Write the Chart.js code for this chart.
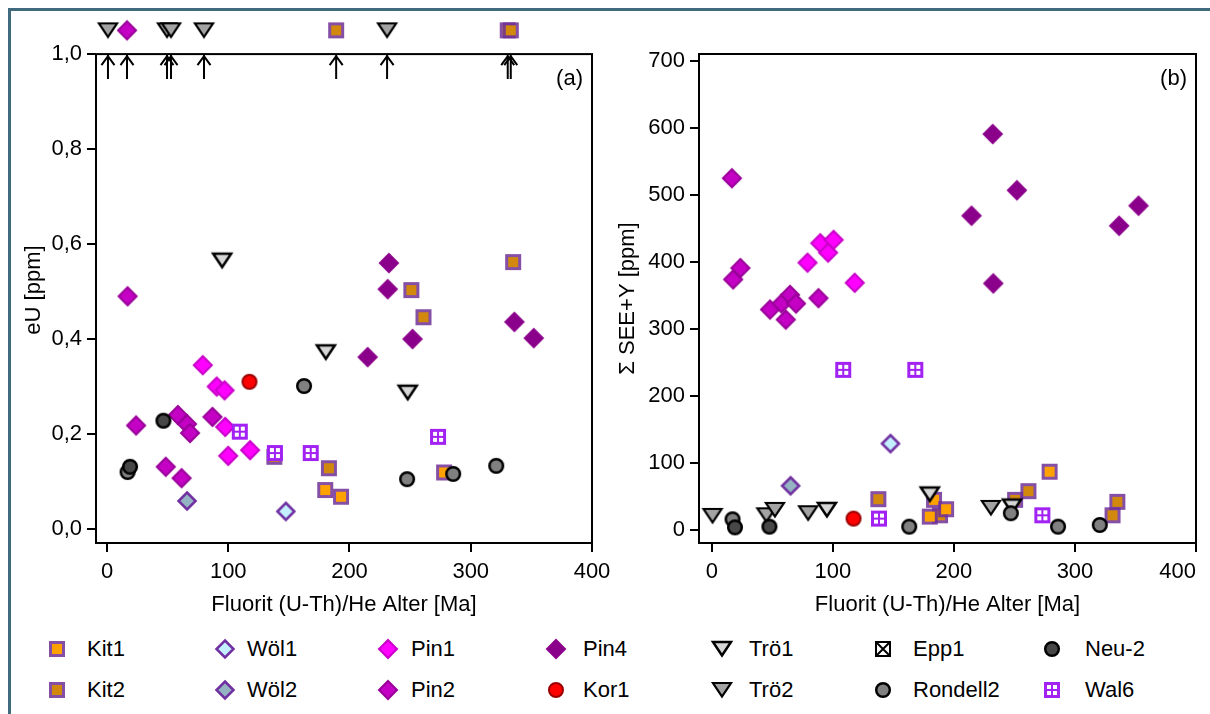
<!DOCTYPE html>
<html lang="de">
<head>
<meta charset="utf-8">
<title>Fluorit (U-Th)/He Alter</title>
<script src="https://cdn.jsdelivr.net/npm/chart.js@4.4.0/dist/chart.umd.min.js"></script>
<style>
    html, body { margin: 0; padding: 0; background: #fff; }
    body { width: 1210px; height: 714px; overflow: hidden; position: relative; font-family: 'Liberation Sans', Arial, sans-serif; }
    #frame { position: absolute; left: 8px; top: 8px; width: 1300px; height: 800px; border: 3px solid #416a7f; }
    canvas { position: absolute; top: 0; }
    #chartA { left: 0; }
    #chartB { left: 580px; }
    .lg-mark { position: absolute; width: 28px; height: 28px; }
    .lg-text { position: absolute; font-size: 22px; line-height: 24px; color: #000; white-space: nowrap; }
</style>
</head>
<body>
<div id="frame"></div>
<canvas id="chartA" width="630" height="630"></canvas>
<canvas id="chartB" width="640" height="630"></canvas>
<div id="legend"></div>

<script>
(function () {
    'use strict';

    /* =====================================================
       DATA  (ages in Ma)
       ===================================================== */
    var X_TICKS = [0, 100, 200, 300, 400];
    var Y_TICKS_A = [0, 0.2, 0.4, 0.6, 0.8, 1.0];
    var Y_TICKS_B = [0, 100, 200, 300, 400, 500, 600, 700];

    // panel (a): eU [ppm]
    var kit1AgeA = [180, 193, 278];
    var kit1EU   = [0.082, 0.068, 0.119];
    var kit2AgeA = [138, 183, 251, 261, 335];
    var kit2EU   = [0.152, 0.128, 0.503, 0.446, 0.562];
    var wol1AgeA = [147.5];
    var wol1EU   = [0.037];
    var wol2AgeA = [66];
    var wol2EU   = [0.059];
    var pin1AgeA = [79, 90.5, 97, 97.5, 100, 118];
    var pin1EU   = [0.345, 0.300, 0.292, 0.215, 0.154, 0.166];
    var pin2AgeA = [17, 24, 48.5, 58.5, 61.5, 66, 68.5, 87];
    var pin2EU   = [0.490, 0.218, 0.131, 0.240, 0.107, 0.221, 0.202, 0.236];
    var pin4AgeA = [215, 231.5, 232.5, 252, 336, 352];
    var pin4EU   = [0.362, 0.505, 0.560, 0.400, 0.436, 0.402];
    var kor1AgeA = [117.5];
    var kor1EU   = [0.310];
    var tro1AgeA = [95, 180.5, 248];
    var tro1EU   = [0.565, 0.372, 0.287];
    var neu2AgeA = [19, 46.5];
    var neu2EU   = [0.131, 0.228];
    var ronAgeA  = [17, 162.5, 247.5, 285.5, 321];
    var ronEU    = [0.120, 0.301, 0.105, 0.116, 0.133];
    var wal6AgeA = [109.5, 138.5, 168, 273];
    var wal6EU   = [0.205, 0.160, 0.160, 0.194];

    // off-scale eU (> 1,0): plotted above the frame with an arrow
    var EU_LIMIT = 1.0;
    var EU_OFFSCALE = 1.05;
    var kit2AgeTop = [189, 330.5, 333];
    var pin2AgeTop = [16.5];
    var tro2AgeTop = [0.8, 49.5, 52.8, 80, 231];

    // panel (b): Σ SEE+Y [ppm]
    var kit1AgeB = [180, 183.5, 193.5, 279];
    var kit1REE  = [20, 45, 31, 87];
    var kit2AgeB = [137.5, 188.5, 250.5, 261.5, 331, 335];
    var kit2REE  = [46, 22, 45, 58, 22, 42];
    var wol1AgeB = [147.5];
    var wol1REE  = [129];
    var wol2AgeB = [65];
    var wol2REE  = [66];
    var pin1AgeB = [79, 89.5, 96, 100.5, 118];
    var pin1REE  = [399, 428, 414, 433, 369];
    var pin2AgeB = [16.5, 17.5, 23.5, 48, 57.5, 61, 64.5, 69.5, 88];
    var pin2REE  = [525, 374, 391, 329, 338, 314, 351, 338, 346];
    var pin4AgeB = [214.5, 232, 232.5, 252, 336.5, 352.5];
    var pin4REE  = [469, 591, 368, 507, 454, 484];
    var kor1AgeB = [117];
    var kor1REE  = [17];
    var tro1AgeB = [95, 180, 248];
    var tro1REE  = [30, 53, 35];
    var tro2AgeB = [0.5, 45, 52, 79.5, 230.5];
    var tro2REE  = [21, 22, 30, 25, 33];
    var neu2AgeB = [19, 47.5];
    var neu2REE  = [4, 5];
    var ronAgeB  = [17, 163, 247, 286, 320.5];
    var ronREE   = [16, 5, 25, 5, 7.5];
    var wal6AgeB = [108.5, 138, 168, 273];
    var wal6REE  = [239, 17, 239, 22];

    var X_TITLE = 'Fluorit (U-Th)/He Alter [Ma]';
    var FONT = "'Liberation Sans', Arial, Helvetica, sans-serif";
    var FONT_SIZE = 22;

    /* =====================================================
       MARKERS (offscreen canvases used as pointStyle)
       ===================================================== */
    function makeMarker(shape, fill, stroke, lw, r) {
        var c = document.createElement('canvas');
        c.width = 28; c.height = 28;
        var g = c.getContext('2d');
        var m = 14;
        g.fillStyle = fill; g.strokeStyle = stroke; g.lineWidth = lw;
        if (shape === 'square') {
            g.fillStyle = stroke; g.fillRect(m - 8, m - 8, 16, 16);
            g.fillStyle = fill; g.fillRect(m - 5, m - 5, 10, 10);
            return c;
        }
        if (shape === 'grid') {
            g.fillRect(m - 8, m - 8, 16, 16);
            g.fillStyle = '#fff';
            [[-5, -5], [1, -5], [-5, 1], [1, 1]].forEach(function (o) {
                g.fillRect(m + o[0], m + o[1], 4, 4);
            });
            return c;
        }
        g.beginPath();
        if (shape === 'diamond') {
            g.moveTo(m, m - r); g.lineTo(m + r, m); g.lineTo(m, m + r); g.lineTo(m - r, m); g.closePath();
        } else if (shape === 'circle') {
            g.arc(m, m, r, 0, Math.PI * 2);
        } else if (shape === 'triangle') {
            g.moveTo(m - 9, m - 7); g.lineTo(m + 9, m - 7); g.lineTo(m, m + 6.5); g.closePath();
        } else if (shape === 'xbox') {
            g.rect(m - 7, m - 7, 14, 14);
        }
        g.fill(); g.stroke();
        if (shape === 'xbox') {
            g.beginPath();
            g.moveTo(m - 7, m - 7); g.lineTo(m + 7, m + 7);
            g.moveTo(m + 7, m - 7); g.lineTo(m - 7, m + 7);
            g.stroke();
        }
        return c;
    }

    var purpleEdge = 'rgba(112,48,150,0.85)';
    var markers = {
        'Kit1': makeMarker('square', '#ffa200', purpleEdge, 0),
        'Kit2': makeMarker('square', '#d1880c', purpleEdge, 0),
        'Wöl1': makeMarker('diamond', '#c4efff', '#7030a0', 2.5, 8.5),
        'Wöl2': makeMarker('diamond', '#94b4c4', '#7030a0', 2.5, 8.5),
        'Pin1': makeMarker('diamond', '#ff00ff', '#c800c8', 2, 9),
        'Pin2': makeMarker('diamond', '#c400c4', '#990099', 2, 9),
        'Pin4': makeMarker('diamond', '#8b008b', '#8b008b', 2, 9),
        'Kor1': makeMarker('circle', '#ff0000', '#9b0000', 2, 7),
        'Trö1': makeMarker('triangle', '#d6d6d6', '#000', 2.5),
        'Trö2': makeMarker('triangle', '#a3a3a3', '#000', 2.2),
        'Epp1': makeMarker('xbox', '#fff', '#000', 2),
        'Neu-2': makeMarker('circle', '#474747', '#000', 2.5, 6.8),
        'Rondell2': makeMarker('circle', '#808080', '#000', 2.5, 6.8),
        'Wal6': makeMarker('grid', '#a122f2', '#a122f2', 0)
    };

    function pts(xs, ys) {
        return xs.map(function (x, i) { return { x: x, y: ys[i] }; });
    }
    function constPts(xs, y) {
        return xs.map(function (x) { return { x: x, y: y }; });
    }
    function ds(label, data) {
        return { label: label, data: data, pointStyle: markers[label], clip: false };
    }

    /* =====================================================
       PLUGINS
       ===================================================== */
    var framePlugin = {
        id: 'frame',
        beforeDatasetsDraw: function (chart, args, opts) {
            var a = chart.chartArea, ctx = chart.ctx;
            var top = chart.scales.y.getPixelForValue(opts.topValue);
            ctx.save();
            ctx.strokeStyle = '#000';
            ctx.lineWidth = 2;
            ctx.strokeRect(a.left, top, a.right - a.left, a.bottom - top);
            ctx.fillStyle = '#000';
            ctx.font = FONT_SIZE + 'px ' + FONT;
            ctx.textAlign = 'right';
            ctx.textBaseline = 'top';
            ctx.fillText(opts.tag, a.right - 9, top + 14);
            ctx.restore();
        }
    };

    var arrowPlugin = {
        id: 'offscale',
        afterDatasetsDraw: function (chart, args, opts) {
            var xs = chart.scales.x, ys = chart.scales.y, ctx = chart.ctx;
            var y0 = ys.getPixelForValue(opts.limit);
            ctx.save();
            ctx.strokeStyle = '#000';
            ctx.lineWidth = 2;
            chart.data.datasets.forEach(function (d) {
                d.data.forEach(function (p) {
                    if (p.y <= opts.limit) return;
                    var x = xs.getPixelForValue(p.x);
                    ctx.beginPath();
                    ctx.moveTo(x, y0 + 1);
                    ctx.lineTo(x, y0 + 25);
                    ctx.moveTo(x - 6.5, y0 + 11);
                    ctx.lineTo(x, y0 + 2);
                    ctx.lineTo(x + 6.5, y0 + 11);
                    ctx.stroke();
                });
            });
            ctx.restore();
        }
    };

    /* =====================================================
       SCALES
       ===================================================== */
    function tickArr(list) {
        return function (s) { s.ticks = list.map(function (v) { return { value: v }; }); };
    }

    // inner: the last label (400) is kept inside the figure; a blank,
    // unmarked tick at the axis minimum keeps the "0" label centred
    function xScale(min, inner) {
        var list = inner ? [min].concat(X_TICKS) : X_TICKS;
        return {
            type: 'linear', min: min, max: 400,
            afterBuildTicks: tickArr(list),
            afterFit: function (s) { s.height = 87; },
            grid: {
                drawOnChartArea: false, drawTicks: true, tickLength: 9, color: '#000', lineWidth: 2,
                tickColor: function (c) { return (inner && c.index === 0) ? 'rgba(0,0,0,0)' : '#000'; }
            },
            border: { display: false },
            ticks: {
                padding: 7, color: '#000', maxRotation: 0, autoSkip: false,
                align: inner ? 'inner' : 'center',
                callback: function (v) { return X_TICKS.indexOf(v) < 0 ? '' : String(v); }
            },
            title: { display: true, text: X_TITLE, color: '#000', padding: { top: 0, bottom: 12 } }
        };
    }

    function yScale(min, max, list, fmt, width, title, titlePad) {
        return {
            type: 'linear', min: min, max: max,
            afterBuildTicks: tickArr(list),
            afterFit: function (s) { s.width = width; },
            grid: { drawOnChartArea: false, drawTicks: true, tickLength: 9, color: '#000', lineWidth: 2 },
            border: { display: false },
            ticks: { padding: 5, color: '#000', autoSkip: false, callback: fmt },
            title: { display: true, text: title, color: '#000', padding: { top: titlePad, bottom: 0 } }
        };
    }

    function baseOptions(padding) {
        return {
            responsive: false,
            animation: false,
            events: [],
            layout: { padding: padding },
            elements: { point: { radius: 9, hoverRadius: 14 } },
            plugins: { legend: { display: false }, tooltip: { enabled: false } }
        };
    }

    /* =====================================================
       CHARTS
       ===================================================== */
    function initCharts() {
        Chart.defaults.font.family = FONT;
        Chart.defaults.font.size = FONT_SIZE;
        Chart.defaults.color = '#000';

        var optA = baseOptions({ left: 0, top: 37, right: 38, bottom: 0 });
        optA.plugins.frame = { topValue: EU_LIMIT, tag: '(a)' };
        optA.plugins.offscale = { limit: EU_LIMIT };
        optA.scales = {
            x: xScale(-9.07, false),
            y: yScale(-0.0295, 1.036, Y_TICKS_A, function (v) {
                return v.toFixed(1).replace('.', ',');
            }, 96, 'eU [ppm]', 21)
        };

        new Chart(document.getElementById('chartA'), {
            type: 'scatter',
            data: {
                datasets: [
                    ds('Neu-2', pts(neu2AgeA, neu2EU)),
                    ds('Rondell2', pts(ronAgeA, ronEU)),
                    ds('Trö1', pts(tro1AgeA, tro1EU)),
                    ds('Trö2', constPts(tro2AgeTop, EU_OFFSCALE)),
                    ds('Wal6', pts(wal6AgeA, wal6EU)),
                    ds('Kor1', pts(kor1AgeA, kor1EU)),
                    ds('Kit1', pts(kit1AgeA, kit1EU)),
                    ds('Kit2', pts(kit2AgeA, kit2EU).concat(constPts(kit2AgeTop, EU_OFFSCALE))),
                    ds('Pin1', pts(pin1AgeA, pin1EU)),
                    ds('Pin2', pts(pin2AgeA, pin2EU).concat(constPts(pin2AgeTop, EU_OFFSCALE))),
                    ds('Pin4', pts(pin4AgeA, pin4EU)),
                    ds('Wöl1', pts(wol1AgeA, wol1EU)),
                    ds('Wöl2', pts(wol2AgeA, wol2EU)),
                    ds('Epp1', [])
                ]
            },
            options: optA,
            plugins: [framePlugin, arrowPlugin]
        });

        var optB = baseOptions({ left: 0, top: 54, right: 24, bottom: 0 });
        optB.plugins.frame = { topValue: 710.4, tag: '(b)' };
        optB.scales = {
            x: xScale(-10.7, true),
            y: yScale(-19.4, 710.4, Y_TICKS_B, function (v) {
                return String(v);
            }, 119, 'Σ SEE+Y [ppm]', 35)
        };

        new Chart(document.getElementById('chartB'), {
            type: 'scatter',
            data: {
                datasets: [
                    ds('Neu-2', pts(neu2AgeB, neu2REE)),
                    ds('Rondell2', pts(ronAgeB, ronREE)),
                    ds('Trö1', pts(tro1AgeB, tro1REE)),
                    ds('Trö2', pts(tro2AgeB, tro2REE)),
                    ds('Wal6', pts(wal6AgeB, wal6REE)),
                    ds('Kor1', pts(kor1AgeB, kor1REE)),
                    ds('Kit1', pts(kit1AgeB, kit1REE)),
                    ds('Kit2', pts(kit2AgeB, kit2REE)),
                    ds('Pin1', pts(pin1AgeB, pin1REE)),
                    ds('Pin2', pts(pin2AgeB, pin2REE)),
                    ds('Pin4', pts(pin4AgeB, pin4REE)),
                    ds('Wöl1', pts(wol1AgeB, wol1REE)),
                    ds('Wöl2', pts(wol2AgeB, wol2REE)),
                    ds('Epp1', [])
                ]
            },
            options: optB,
            plugins: [framePlugin]
        });
    }

    /* =====================================================
       LEGEND (HTML, two rows of seven)
       ===================================================== */
    var legendRows = [
        ['Kit1', 'Wöl1', 'Pin1', 'Pin4', 'Trö1', 'Epp1', 'Neu-2'],
        ['Kit2', 'Wöl2', 'Pin2', 'Kor1', 'Trö2', 'Rondell2', 'Wal6']
    ];

    function initLegend() {
        var markX = [57, 225, 388, 556, 722, 883, 1052];
        var textX = [87, 247, 411, 583, 749, 913, 1085];
        var rowY = [649, 690];
        var box = document.getElementById('legend');
        legendRows.forEach(function (row, r) {
            row.forEach(function (name, i) {
                var img = document.createElement('img');
                img.className = 'lg-mark';
                img.src = markers[name].toDataURL();
                img.style.left = (markX[i] - 14) + 'px';
                img.style.top = (rowY[r] - 14) + 'px';
                box.appendChild(img);
                var t = document.createElement('div');
                t.className = 'lg-text';
                t.textContent = name;
                t.style.left = textX[i] + 'px';
                t.style.top = (rowY[r] - 12) + 'px';
                box.appendChild(t);
            });
        });
    }

    initCharts();
    initLegend();
})();
</script>
</body>
</html>
